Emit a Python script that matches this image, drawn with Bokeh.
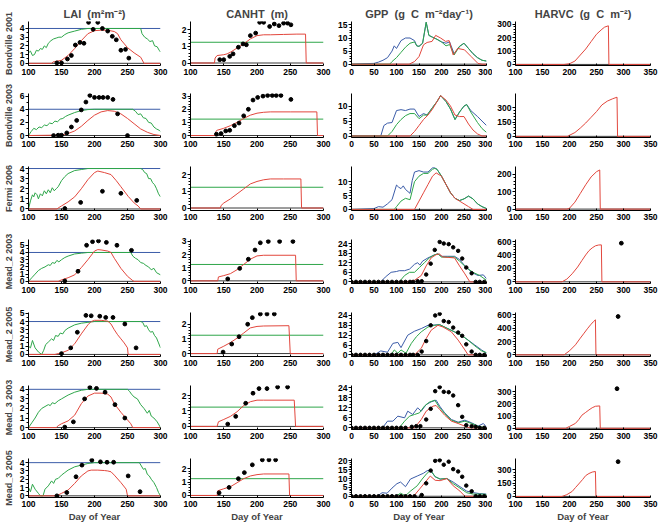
from bokeh.plotting import figure
from bokeh.layouts import gridplot
from bokeh.models import Range1d, FixedTicker, Span
from bokeh.embed import file_html
from bokeh.resources import INLINE

# ---------------- labels ----------------
ROW_LABELS = ["Bondville 2001", "Bondville 2003", "Fermi 2006", "Mead_2 2003",
              "Mead_2 2005", "Mead_3 2003", "Mead_3 2005"]
NB = "\u00a0"
COL_TITLES = ["LAI" + NB * 2 + "(m\u00b2m\u207b\u00b2)",
              "CANHT" + NB * 2 + "(m)",
              "GPP" + NB * 2 + "(g" + NB * 2 + "C" + NB * 2 + "m\u207b\u00b2day\u207b\u00b9)",
              "HARVC" + NB * 2 + "(g" + NB * 2 + "C" + NB * 2 + "m\u207b\u00b2)"]
X_LABEL = "Day of Year"

LAI_XTICKS = [100, 150, 200, 250, 300]
CANHT_XTICKS = [100, 150, 200, 250, 300]
GPP_XTICKS = [0, 50, 100, 150, 200, 250, 300]
HARVC_XTICKS = [100, 150, 200, 250, 300, 350]

LAI_MAX = [4, 4, 4, 4, 4, 4, 4]
CANHT_REF = [1.25, 1.25, 1.25, 1.25, 1.25, 1.25, 1.25]

# ---------------- LAI ----------------
B01_LAI_GX = [100,103,106,109,112,115,118,121,124,127,130,134,138,142,146,150,155,160,170,180,190,200,266,270,272,276,280,284,288,291,295,298,300]
B01_LAI_GY = [1.2,1.4,0.9,1.0,1.5,1.4,1.7,1.6,2.0,1.8,2.3,2.6,2.8,2.9,3.0,3.0,3.3,3.5,3.7,3.9,4.0,4.0,4.0,4.0,3.4,3.0,2.8,2.5,2.6,2.0,1.9,1.5,1.3]
B01_LAI_RX = [100,135,137,140,150,160,170,180,190,200,210,220,230,235,240,250,260,270,275,300]
B01_LAI_RY = [0,0,0.15,0.2,0.35,0.9,1.7,2.6,3.4,3.75,3.8,3.8,3.65,3.4,2.7,1.8,1.2,0.7,0,0]
B01_LAI_DX = [143,150,159,165,171,178,184,191,198,205,212,220,227,233,240,247,252]
B01_LAI_DY = [0.05,0.05,0.5,0.9,2.1,2.4,2.3,4.7,3.9,4.7,4.0,3.7,3.1,2.7,1.5,1.6,0.6]

B03_LAI_GX = [100,104,108,112,116,120,124,128,132,136,140,144,148,152,156,160,170,180,190,200,258,262,266,270,274,278,282,286,290,294,298,300]
B03_LAI_GY = [0,0.6,1.1,0.9,1.3,1.2,1.6,1.5,1.9,1.8,2.2,2.1,2.5,2.6,2.9,3.1,3.5,3.8,3.95,4.0,4.0,3.7,3.2,3.3,2.7,2.6,2.0,1.9,1.3,1.0,0.8,0.6]
B03_LAI_RX = [100,140,150,160,170,180,190,200,210,220,230,240,250,260,270,280,290,300]
B03_LAI_RY = [0,0.05,0.1,0.3,0.7,1.4,2.3,3.1,3.6,3.8,3.7,3.3,2.6,1.8,1.0,0.5,0.15,0]
B03_LAI_DX = [138,145,150,158,165,173,180,187,193,200,207,213,220,228,235,250]
B03_LAI_DY = [0,0.05,0.05,0.4,1.3,2.3,3.9,5.1,6.1,5.8,5.8,5.8,5.8,5.5,3.3,0]

F06_LAI_GX = [100,103,106,108,110,113,115,118,121,124,127,130,133,136,139,142,145,150,155,160,170,180,190,270,273,276,279,282,285,288,291,294,297,300]
F06_LAI_GY = [0,0.8,1.4,1.2,1.6,1.4,1.0,1.5,1.3,1.8,1.5,1.9,1.6,2.1,1.8,2.0,2.2,2.8,3.2,3.5,3.8,3.9,4.0,4.0,3.9,3.6,3.5,3.0,3.0,2.6,2.4,2.0,1.5,1.2]
F06_LAI_RX = [100,143,145,150,160,170,180,190,200,205,215,225,233,240,251,260,266,270,300]
F06_LAI_RY = [0,0,0.1,0.3,0.7,1.2,2.0,2.9,3.6,3.75,3.6,3.4,2.8,2.2,1.25,0.6,0.3,0,0]
F06_LAI_DX = [155,179,212,240,264]
F06_LAI_DY = [0.05,0.65,1.75,1.55,0.85]

M203_LAI_GX = [100,105,110,115,120,125,130,133,136,140,143,146,150,155,160,170,180,190,255,258,262,266,270,274,278,282,286,290,294,300]
M203_LAI_GY = [0,0.5,1.0,1.5,1.8,2.0,2.3,2.2,2.6,2.5,2.9,2.7,3.0,3.3,3.5,3.8,3.9,4.0,4.0,3.5,3.2,3.0,2.6,2.5,2.2,2.0,1.6,1.8,1.2,0.9]
M203_LAI_RX = [100,145,150,160,170,180,190,200,205,210,220,225,230,240,250,258,260,300]
M203_LAI_RY = [0,0,0.2,0.5,0.9,1.9,3.0,4.2,4.4,4.35,4.2,4.0,3.2,1.8,0.7,0.1,0,0]
M203_LAI_DX = [155,175,188,197,206,218,234,256]
M203_LAI_DY = [0.05,1.4,5.0,5.5,5.6,5.4,5.0,4.3]

M205_LAI_GX = [100,103,106,110,115,120,123,126,130,135,138,141,145,148,152,155,160,170,180,190,200,270,273,276,279,282,285,288,291,294,297,300]
M205_LAI_GY = [1.0,0.8,1.7,0.8,0.3,0.0,0.5,1.2,1.5,1.9,1.7,2.3,2.2,2.6,2.5,2.9,3.2,3.6,3.8,3.9,4.0,4.0,3.9,3.4,3.5,3.0,2.7,2.8,2.3,2.0,1.4,0.8]
M205_LAI_RX = [100,140,145,150,160,170,180,190,195,200,210,215,220,225,230,235,240,245,250,251,300]
M205_LAI_RY = [0,0,0.1,0.2,0.5,1.3,2.5,3.6,4.0,4.15,4.15,4.1,4.05,3.7,3.0,2.4,1.9,1.4,0.8,0,0]
M205_LAI_DX = [150,164,174,187,195,208,217,228,246,263]
M205_LAI_DY = [0.1,0.8,2.7,4.75,4.7,4.65,4.5,4.5,3.7,0.8]

M303_LAI_GX = [100,105,110,115,120,125,130,133,136,140,145,150,160,170,180,190,250,253,256,260,265,270,275,280,283,286,290,295,300]
M303_LAI_GY = [0,0.5,1.0,1.6,2.0,2.2,2.4,2.3,2.6,2.5,2.8,3.0,3.4,3.7,3.9,4.0,4.0,3.8,3.5,3.2,3.0,2.4,2.0,1.5,1.8,1.2,1.0,0.6,0]
M303_LAI_RX = [100,142,145,150,160,170,180,190,200,210,220,225,230,240,250,255,258,300]
M303_LAI_RY = [0,0,0.2,0.4,0.7,1.3,2.5,3.3,3.6,3.6,3.5,3.2,2.5,1.6,0.8,0.4,0,0]
M303_LAI_DX = [155,168,185,193,203,216,231,246]
M303_LAI_DY = [0.05,0.6,3.0,4.2,4.1,3.7,2.4,1.0]

M305_LAI_GX = [100,103,106,110,115,118,122,125,130,135,138,141,145,150,155,160,170,180,190,200,268,271,274,277,280,283,286,290,294,297,300]
M305_LAI_GY = [1.0,0.5,1.4,0.8,0.3,0.0,0.0,0.8,1.2,1.8,1.5,2.0,2.1,2.5,2.8,3.1,3.5,3.7,3.9,4.0,4.0,3.6,3.2,3.3,2.6,2.4,2.0,1.6,1.0,0.4,0]
M305_LAI_RX = [100,140,145,150,160,170,180,190,195,205,215,220,225,230,240,248,250,300]
M305_LAI_RY = [0,0,0.1,0.3,0.7,1.5,2.4,3.0,3.1,3.1,3.05,3.0,2.9,2.5,1.6,0.8,0,0]
M305_LAI_DX = [143,158,172,181,196,209,219,229,251,269]
M305_LAI_DY = [0.0,0.4,2.3,3.7,4.3,4.1,4.05,4.05,2.4,0.5]

# ---------------- CANHT ----------------
B01_CH_RX = [100,136,137,140,150,155,160,170,180,190,200,210,220,240,260,273,274,300]
B01_CH_RY = [0,0,0.3,0.45,0.5,0.55,0.65,0.9,1.15,1.45,1.65,1.7,1.7,1.72,1.74,1.74,0,0]
B01_CH_DX = [144,150,159,164,172,179,184,190,198,204,210,219,226,233,240,246,251]
B01_CH_DY = [0.2,0.2,0.4,0.55,0.95,1.15,1.1,1.65,1.8,2.45,2.45,2.2,2.35,2.25,2.4,2.4,2.3]

B03_CH_RX = [100,137,138,140,150,160,170,180,190,200,210,220,250,290,291,300]
B03_CH_RY = [0,0,0.3,0.4,0.55,0.75,1.0,1.3,1.55,1.7,1.77,1.8,1.8,1.8,0,0]
B03_CH_DX = [139,146,153,159,166,173,180,187,194,201,209,216,223,229,236,251]
B03_CH_DY = [0.1,0.15,0.35,0.4,0.75,0.95,1.5,2.0,2.7,2.9,3.0,3.05,3.05,3.05,3.05,2.75]

F06_CH_RX = [100,145,146,150,160,170,180,190,200,210,220,240,266,267,300]
F06_CH_RY = [0,0,0.15,0.3,0.55,0.85,1.15,1.45,1.6,1.7,1.75,1.75,1.75,0,0]
F06_CH_DX = []
F06_CH_DY = []

M203_CH_RX = [100,141,142,150,160,170,180,190,200,210,258,259,300]
M203_CH_RY = [0,0,0.3,0.4,0.55,0.85,1.25,1.65,1.9,1.95,1.95,0,0]
M203_CH_DX = [156,174,187,197,205,217,234,254]
M203_CH_DY = [0.15,0.95,1.65,2.35,2.9,3.0,3.0,3.0]

M205_CH_RX = [100,140,141,150,160,170,180,190,200,210,248,250,300]
M205_CH_RY = [0,0,0.3,0.5,0.75,1.05,1.4,1.75,1.85,1.88,1.9,0,0]
M205_CH_DX = [149,162,173,186,193,205,215,226]
M205_CH_DY = [0.1,0.65,1.15,2.0,2.45,2.7,2.7,2.7]

M303_CH_RX = [100,140,142,150,160,170,180,190,200,210,256,258,300]
M303_CH_RY = [0,0,0.3,0.45,0.65,0.95,1.35,1.6,1.7,1.7,1.7,0,0]
M303_CH_DX = [156,168,183,194,203,215,231,246]
M303_CH_DY = [0.15,0.65,1.5,2.15,2.45,2.45,2.55,2.55]

M305_CH_RX = [100,140,141,150,160,170,180,190,200,210,248,249,300]
M305_CH_RY = [0,0,0.35,0.5,0.65,0.95,1.25,1.45,1.55,1.6,1.6,0,0]
M305_CH_DX = [143,158,172,181,193,208,218,228]
M305_CH_DY = [0.2,0.6,1.25,1.7,2.28,2.65,2.65,2.65]

# ---------------- GPP ----------------
B01_GPP_BX = [0,30,50,60,70,80,90,95,100,110,120,130,140,145,150,158,166,172,180,190,200,210,218,228,240,250,260,270,280,290,300]
B01_GPP_BY = [0,0.2,0.3,0.8,1.5,2.5,5.0,7.0,6.0,9.0,10.0,10.0,9.0,7.0,6.8,8.0,16.0,11.0,10.3,9.5,8.5,8.0,8.5,4.0,6.8,8.0,6.0,4.0,2.5,1.5,1.2]
B01_GPP_GX = [0,85,90,100,110,120,130,140,145,150,158,166,172,180,190,200,210,218,228,240,250,260,270,280,290,300]
B01_GPP_GY = [0,0,1.0,2.5,4.5,6.5,8.0,8.5,7.0,6.8,8.0,16.0,11.0,10.3,9.5,8.5,7.0,7.5,3.5,6.8,8.0,6.0,4.0,2.5,1.5,1.2]
B01_GPP_RX = [0,128,140,150,160,168,179,187,198,209,217,226,236,251,266,281,290,300]
B01_GPP_RY = [0,0,1.0,2.9,7.4,8.3,8.7,11.0,10.0,8.7,9.0,3.5,6.0,5.5,2.9,0.3,0,0]
B01_GPP_DX = []
B01_GPP_DY = []

B03_GPP_BX = [0,65,72,80,90,100,110,120,130,140,150,155,160,168,180,190,198,210,220,230,240,250,256,265,280,290,300]
B03_GPP_BY = [0,0,3.5,4.3,4.5,8.5,8.8,8.5,9.0,9.0,6.5,7.0,7.5,7.0,9.5,11.5,13.5,11.5,9.0,5.5,8.0,10.0,10.5,8.5,6.5,5.0,3.5]
B03_GPP_GX = [0,80,90,100,110,120,130,140,150,160,168,180,190,198,210,220,230,240,250,256,265,280,290,300]
B03_GPP_GY = [0,0,1.5,3.8,5.5,6.8,7.5,7.5,5.8,7.0,7.0,9.5,11.5,13.5,11.5,9.0,5.5,8.0,10.0,10.5,8.0,4.5,2.5,1.2]
B03_GPP_RX = [0,130,140,150,160,170,180,190,198,210,220,230,240,250,260,270,280,290,300]
B03_GPP_RY = [0,0,1.5,3.5,5.5,7.0,9.0,11.5,13.5,12.0,10.0,7.0,6.5,6.5,4.0,2.0,0.7,0,0]
B03_GPP_DX = []
B03_GPP_DY = []

F06_GPP_BX = [0,50,60,70,80,90,100,105,110,115,120,130,135,140,150,160,170,180,185,190,200,210,220,230,240,250,260,270,280,290,300]
F06_GPP_BY = [0,0.3,1.0,0.8,2.0,3.5,8.8,8.0,7.5,8.5,7.2,5.8,10.5,13.5,14.0,13.5,13.5,15.0,15.0,14.5,12.0,9.0,6.0,4.0,3.2,3.8,4.8,3.8,2.0,1.0,0.3]
F06_GPP_GX = [0,95,100,110,120,130,140,150,160,170,180,185,190,200,210,220,230,240,250,260,270,280,290,300]
F06_GPP_GY = [0,0,1.0,3.0,4.0,3.5,10.0,12.0,13.0,13.0,14.5,14.8,14.5,12.0,9.0,6.0,4.0,3.2,3.8,4.8,3.8,2.0,1.0,0.3]
F06_GPP_RX = [0,140,150,160,170,180,188,200,210,220,230,240,250,260,270,300]
F06_GPP_RY = [0,0,3.0,6.0,9.0,12.0,13.2,12.0,9.0,6.0,4.0,3.0,2.0,1.0,0,0]
F06_GPP_DX = []
F06_GPP_DY = []

M203_GPP_BX = [0,65,75,88,100,106,118,129,140,147,152,158,170,185,192,200,214,229,240,252,267,281,293,300]
M203_GPP_BY = [0,0,3,6,6.5,7,7,8,11,12,10.5,13,15,17,17.5,16,16,16,14,10,6,4,4.4,2]
M203_GPP_GX = [0,106,118,129,140,151,162,173,185,192,200,214,229,240,255,270,285,300]
M203_GPP_GY = [0,0,4,6,6,9,12,15,17,17.5,15.5,15.5,15.5,13,9,6,4,1]
M203_GPP_RX = [0,121,140,155,166,177,188,195,203,215,229,240,252,263,300]
M203_GPP_RY = [0,0,1,4,10,15,17,17.5,15.6,15.3,15,10,5,0,0]
M203_GPP_DX = [0,10,20,30,40,50,60,70,80,90,100,110,120,130,137,147,156,166,176,185,196,205,216,226,237,246,255,267,276,285,295]
M203_GPP_DY = [0,0,0,0,0,0,0,0,0,0,0,0,0,0,0,0.4,0.4,4.6,11.4,20,25,24,23.6,21.6,19.4,14.6,9,5.4,0,0,0]

M205_GPP_BX = [0,51,65,80,92,103,110,125,140,155,170,185,196,214,229,244,259,274,289,300]
M205_GPP_BY = [0,0,2.4,1.6,7,7.6,4.4,12,14.4,16,18,18.2,18.4,16,14,12,9,6,3,1]
M205_GPP_GX = [0,88,95,103,110,121,133,144,155,170,185,196,214,229,244,259,274,289,300]
M205_GPP_GY = [0,0,3,1,3,1,7,11,14,17,18,18.4,16,14,12,9,5.5,2.4,1.4]
M205_GPP_RX = [0,140,155,166,177,192,203,222,237,252,259,300]
M205_GPP_RY = [0,0,4,10,15,18,17,14,9,3,0,0]
M205_GPP_DX = [0,10,20,30,40,50,60,70,80,90,100,110,120,130,137,147,156,166,176,186,196,205,216,226,237,246,255,267,276,285,295]
M205_GPP_DY = [0,0,0,0,0,0,0,0,0,0,0,0,0,0,0,0,2,8.4,18,24,25,20.6,20,16.6,13.6,11.6,6.4,2,0,0,0]

M303_GPP_BX = [0,69,80,92,103,118,125,136,147,155,166,177,188,196,207,222,237,252,267,281,293,300]
M303_GPP_BY = [0,0,4,4,7,6,10,8,12,10,14,15.6,16.6,13,9,5,3.4,4.6,3,1,2.6,0.5]
M303_GPP_GX = [0,106,118,129,140,151,162,173,185,196,207,222,237,252,267,281,300]
M303_GPP_GY = [0,0,4,7,8,9,13,15.4,16.6,12,8.6,4.6,3,4,2.6,1,0]
M303_GPP_RX = [0,140,155,166,181,188,196,207,222,237,252,263,300]
M303_GPP_RY = [0,0,5,10,13,13.4,11,7.6,4,2.6,1,0,0]
M303_GPP_DX = [0,10,20,30,40,50,60,70,80,90,100,110,120,134,144,153,166,176,186,196,205,216,226,237,246,255,267,276,285,295]
M303_GPP_DY = [0,0,0,0,0,0,0,0,0,0,0,0,0,0.6,1,1,5,11.4,22,24.4,21.6,21.4,19.4,13.6,6.6,1.6,1,0.6,0,0]

M305_GPP_BX = [0,57,68,79,90,101,109,120,131,146,160,168,175,186,197,212,226,241,256,271,285,300]
M305_GPP_BY = [0,0,2,1.7,4.6,7.1,8,5.4,9.7,11.4,13,14.4,14.7,11,9.7,10,8,5.4,2.9,2,1.5,1.2]
M305_GPP_GX = [0,98,109,120,131,146,157,168,176,186,197,212,226,241,256,271,293,300]
M305_GPP_GY = [0,0,1.7,0.3,2.9,5.9,9.7,13,14.7,11,9.7,10,7.1,4.6,2,1.2,1.2,1.0]
M305_GPP_RX = [0,138,153,164,175,186,197,212,226,241,252,300]
M305_GPP_RY = [0,0,4.6,8,11.4,9,8.8,10,5.9,2.9,0,0]
M305_GPP_DX = [0,10,20,30,40,50,60,70,80,90,100,110,120,130,140,156,166,176,186,196,205,216,226,237,246,255,267,276,285,295]
M305_GPP_DY = [0,0,0,0,0,0,0,0,0,0,0,0,0,0,0,0.7,7.3,14.5,20,20.3,17.8,19.5,15.3,14,11,6,2.8,0,0,0]

# ---------------- HARVC ----------------
B01_HV_RX = [100,190,200,210,220,230,240,250,260,265,272,273,350]
B01_HV_RY = [0,0,5,25,70,115,170,225,262,278,288,0,0]
B01_HV_DX = []
B01_HV_DY = []
B03_HV_RX = [100,196,210,220,230,240,250,260,270,280,288,289,350]
B03_HV_RY = [0,0,40,87,140,200,260,330,370,395,411,0,0]
B03_HV_DX = []
B03_HV_DY = []
F06_HV_RX = [100,195,200,210,220,230,240,250,256,257,350]
F06_HV_RY = [0,0,5,40,90,140,185,215,225,0,0]
F06_HV_DX = []
F06_HV_DY = []
M203_HV_RX = [100,186,195,205,215,223,230,236,242,248,254,259,260,350]
M203_HV_RY = [0,0,40,120,220,317,400,463,505,536,548,550,0,0]
M203_HV_DX = [296]
M203_HV_DY = [575]
M205_HV_RX = [100,190,200,211,220,227,233,239,244,248,249,350]
M205_HV_RY = [0,0,60,150,250,325,390,450,495,525,0,0]
M205_HV_DX = [290]
M205_HV_DY = [575]
M303_HV_RX = [100,193,200,211,217,223,230,236,242,248,256,257,350]
M303_HV_RY = [0,0,15,40,70,107,130,150,168,180,183,0,0]
M303_HV_DX = [288]
M303_HV_DY = [324]
M305_HV_RX = [100,186,195,205,211,217,224,230,236,242,248,249,350]
M305_HV_RY = [0,0,20,57,100,141,190,236,260,276,283,0,0]
M305_HV_DX = [290]
M305_HV_DY = [394]

# ---------------- axis ranges / ticks per panel ----------------
LAI_YR = [(-0.25, 4.8), (-0.3, 6.4), (-0.15, 4.2), (-0.3, 5.8), (-0.25, 5.1), (-0.2, 4.4), (-0.2, 4.5)]
LAI_YT = [[0,1,2,3,4], [0,2,4,6], [0,1,2,3,4], [0,1,2,3,4,5], [0,1,2,3,4,5], [0,1,2,3,4], [0,1,2,3,4]]
CH_YR = [(-0.15, 2.5), (-0.15, 3.2), (-0.15, 2.5), (-0.2, 3.15), (-0.2, 2.8), (-0.2, 2.65), (-0.15, 2.75)]
CH_YT = [[0,1,2], [0,1,2,3], [0,1,2], [0,1,2,3], [0,1,2], [0,1,2], [0,1,2]]
GPP_YR = [(-0.5, 16.3), (-0.5, 14.2), (-0.4, 15.5), (-1, 26.5), (-1, 25.8), (-1, 25.4), (-0.7, 21.3)]
GPP_YT = [[0,5,10,15], [0,5,10], [0,5,10], [0,6,12,18,24], [0,6,12,18,24], [0,6,12,18,24], [0,5,10,15,20]]
HV_YR = [(-8, 320), (-12, 450), (-8, 245), (-25, 630), (-25, 635), (-10, 350), (-12, 430)]
HV_YT = [[0,100,200,300], [0,150,300], [0,100,200], [0,200,400,600], [0,200,400,600], [0,100,200,300], [0,150,300]]

LAI_DATA = [
    (B01_LAI_GX, B01_LAI_GY, B01_LAI_RX, B01_LAI_RY, B01_LAI_DX, B01_LAI_DY),
    (B03_LAI_GX, B03_LAI_GY, B03_LAI_RX, B03_LAI_RY, B03_LAI_DX, B03_LAI_DY),
    (F06_LAI_GX, F06_LAI_GY, F06_LAI_RX, F06_LAI_RY, F06_LAI_DX, F06_LAI_DY),
    (M203_LAI_GX, M203_LAI_GY, M203_LAI_RX, M203_LAI_RY, M203_LAI_DX, M203_LAI_DY),
    (M205_LAI_GX, M205_LAI_GY, M205_LAI_RX, M205_LAI_RY, M205_LAI_DX, M205_LAI_DY),
    (M303_LAI_GX, M303_LAI_GY, M303_LAI_RX, M303_LAI_RY, M303_LAI_DX, M303_LAI_DY),
    (M305_LAI_GX, M305_LAI_GY, M305_LAI_RX, M305_LAI_RY, M305_LAI_DX, M305_LAI_DY),
]
CH_DATA = [
    (B01_CH_RX, B01_CH_RY, B01_CH_DX, B01_CH_DY),
    (B03_CH_RX, B03_CH_RY, B03_CH_DX, B03_CH_DY),
    (F06_CH_RX, F06_CH_RY, F06_CH_DX, F06_CH_DY),
    (M203_CH_RX, M203_CH_RY, M203_CH_DX, M203_CH_DY),
    (M205_CH_RX, M205_CH_RY, M205_CH_DX, M205_CH_DY),
    (M303_CH_RX, M303_CH_RY, M303_CH_DX, M303_CH_DY),
    (M305_CH_RX, M305_CH_RY, M305_CH_DX, M305_CH_DY),
]
GPP_DATA = [
    (B01_GPP_BX, B01_GPP_BY, B01_GPP_GX, B01_GPP_GY, B01_GPP_RX, B01_GPP_RY, B01_GPP_DX, B01_GPP_DY),
    (B03_GPP_BX, B03_GPP_BY, B03_GPP_GX, B03_GPP_GY, B03_GPP_RX, B03_GPP_RY, B03_GPP_DX, B03_GPP_DY),
    (F06_GPP_BX, F06_GPP_BY, F06_GPP_GX, F06_GPP_GY, F06_GPP_RX, F06_GPP_RY, F06_GPP_DX, F06_GPP_DY),
    (M203_GPP_BX, M203_GPP_BY, M203_GPP_GX, M203_GPP_GY, M203_GPP_RX, M203_GPP_RY, M203_GPP_DX, M203_GPP_DY),
    (M205_GPP_BX, M205_GPP_BY, M205_GPP_GX, M205_GPP_GY, M205_GPP_RX, M205_GPP_RY, M205_GPP_DX, M205_GPP_DY),
    (M303_GPP_BX, M303_GPP_BY, M303_GPP_GX, M303_GPP_GY, M303_GPP_RX, M303_GPP_RY, M303_GPP_DX, M303_GPP_DY),
    (M305_GPP_BX, M305_GPP_BY, M305_GPP_GX, M305_GPP_GY, M305_GPP_RX, M305_GPP_RY, M305_GPP_DX, M305_GPP_DY),
]
HV_DATA = [
    (B01_HV_RX, B01_HV_RY, B01_HV_DX, B01_HV_DY),
    (B03_HV_RX, B03_HV_RY, B03_HV_DX, B03_HV_DY),
    (F06_HV_RX, F06_HV_RY, F06_HV_DX, F06_HV_DY),
    (M203_HV_RX, M203_HV_RY, M203_HV_DX, M203_HV_DY),
    (M205_HV_RX, M205_HV_RY, M205_HV_DX, M205_HV_DY),
    (M303_HV_RX, M303_HV_RY, M303_HV_DX, M303_HV_DY),
    (M305_HV_RX, M305_HV_RY, M305_HV_DX, M305_HV_DY),
]

# ---------------- styling ----------------
FONT = "Liberation Sans"
BLUE = "#3b5ca8"
GREEN = "#2ea64a"
RED = "#e2473d"
BASE = "#3a3a3a"

COL_W = [170, 165, 157, 168]
COL_L = [27, 20, 15, 23]
COL_R = [10, 12, 6, 10]
XR = [(100, 300), (100, 300), (0, 300), (100, 350)]
XT = [LAI_XTICKS, CANHT_XTICKS, GPP_XTICKS, HARVC_XTICKS]


def minor_between(ticks, n):
    out = []
    for a, b in zip(ticks[:-1], ticks[1:]):
        step = (b - a) / n
        out += [a + step * k for k in range(1, n)]
    return out


def make_fig(r, c, yr, yt, ymin_n):
    if r == 0:
        H, T, B = 82, 21, 17
    elif r == 6:
        H, T, B = 77, 11, 22
    else:
        H, T, B = 73, 11, 18
    p = figure(width=COL_W[c], height=H, x_range=Range1d(*XR[c]), y_range=Range1d(*yr),
               output_backend="svg", toolbar_location=None,
               min_border_left=COL_L[c], min_border_right=COL_R[c],
               min_border_top=T, min_border_bottom=B)
    p.outline_line_color = None
    p.grid.visible = False
    p.background_fill_color = "white"
    p.border_fill_color = "white"
    xt = XT[c]
    for ax, t, m in ((p.xaxis[0], xt, []), (p.yaxis[0], yt, minor_between(yt, ymin_n))):
        ax.ticker = FixedTicker(ticks=t, minor_ticks=m)
        ax.major_label_text_font = FONT
        ax.major_label_text_font_size = "8.5px"
        ax.major_label_text_font_style = "bold"
        ax.major_label_text_color = "black"
        ax.axis_line_color = "black"
        ax.axis_line_width = 1
        ax.major_tick_line_color = "black"
        ax.minor_tick_line_color = "black"
    p.xaxis.major_tick_in = 2
    p.xaxis.major_tick_out = 0
    p.yaxis.major_tick_in = 0
    p.yaxis.major_tick_out = 3
    p.yaxis.minor_tick_in = 0
    p.yaxis.minor_tick_out = 2
    p.xaxis.major_label_standoff = 3
    p.yaxis.major_label_standoff = 1
    if r == 0:
        p.title.text = COL_TITLES[c]
        p.title.align = "center"
        p.title.text_font = FONT
        p.title.text_font_size = "11px"
        p.title.text_font_style = "bold"
        p.title.standoff = 3
    if c == 0:
        p.yaxis.axis_label = ROW_LABELS[r]
        p.yaxis.axis_label_text_font = FONT
        p.yaxis.axis_label_text_font_size = "9px"
        p.yaxis.axis_label_text_font_style = "bold"
        p.yaxis.axis_label_standoff = 3
    if r == 6:
        p.xaxis.axis_label = X_LABEL
        p.xaxis.axis_label_text_font = FONT
        p.xaxis.axis_label_text_font_size = "9.5px"
        p.xaxis.axis_label_text_font_style = "bold"
        p.xaxis.axis_label_standoff = 1
    p.add_layout(Span(location=0, dimension="width", line_color=BASE, line_width=1, level="underlay"))
    return p


rows = []
for r in range(7):
    row_figs = []
    # LAI
    gx, gy, rx, ry, dx, dy = LAI_DATA[r]
    p = make_fig(r, 0, LAI_YR[r], LAI_YT[r], 2)
    p.add_layout(Span(location=LAI_MAX[r], dimension="width", line_color=BLUE, line_width=1, level="underlay"))
    p.line(gx, gy, line_color=GREEN, line_width=1)
    p.line(rx, ry, line_color=RED, line_width=1)
    if dx:
        p.scatter(dx, dy, size=3.8, color="black")
    row_figs.append(p)
    # CANHT
    rx, ry, dx, dy = CH_DATA[r]
    p = make_fig(r, 1, CH_YR[r], CH_YT[r], 5)
    p.add_layout(Span(location=CANHT_REF[r], dimension="width", line_color=GREEN, line_width=1, level="underlay"))
    p.line(rx, ry, line_color=RED, line_width=1)
    if dx:
        p.scatter(dx, dy, size=3.8, color="black")
    row_figs.append(p)
    # GPP
    bx, by, gx, gy, rx, ry, dx, dy = GPP_DATA[r]
    p = make_fig(r, 2, GPP_YR[r], GPP_YT[r], 5 if GPP_YT[r][1] == 5 else 3)
    p.line(bx, by, line_color=BLUE, line_width=1)
    p.line(gx, gy, line_color=GREEN, line_width=1)
    p.line(rx, ry, line_color=RED, line_width=1)
    if dx:
        p.scatter(dx, dy, size=3.5, color="black")
    row_figs.append(p)
    # HARVC
    rx, ry, dx, dy = HV_DATA[r]
    p = make_fig(r, 3, HV_YR[r], HV_YT[r], 5)
    p.line(rx, ry, line_color=RED, line_width=1)
    if dx:
        p.scatter(dx, dy, size=3.8, color="black")
    row_figs.append(p)
    rows.append(row_figs)

grid = gridplot(rows, toolbar_location=None)

open("out.html", "w").write(file_html(grid, INLINE))
